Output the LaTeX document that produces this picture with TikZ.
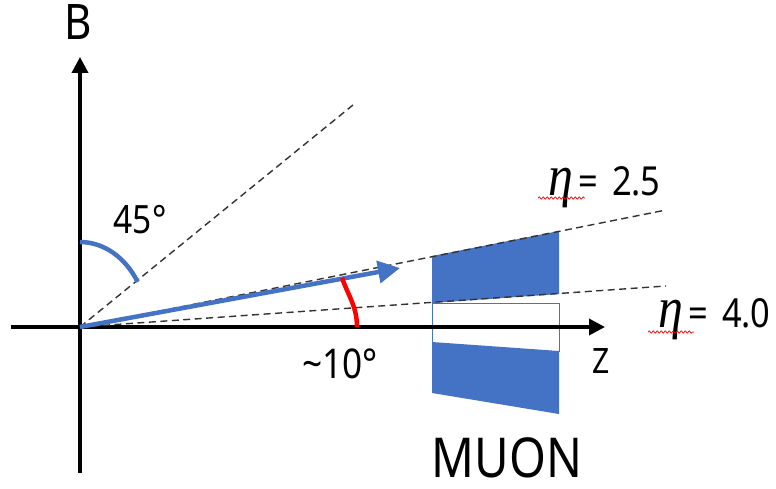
\documentclass[tikz,border=0pt]{standalone}
\usepackage{fontspec}
\setmainfont{Noto Sans}
\newfontfamily\etafont{Liberation Serif}
\usepackage{xcolor}
\usetikzlibrary{
    arrows.meta,
    decorations.pathmorphing
}
\definecolor{muonblue}{RGB}{68,114,196}
\definecolor{conegray}{RGB}{50,50,50}
\newcommand{\fsz}[1]{\fontsize{#1}{#1}\selectfont}
\newcommand{\etasym}{{\etafont\itshape\fsz{58}η}}

\begin{document}
\begin{tikzpicture}[
        x=1pt, y=1pt,
        axis/.style={line width=3.5pt, -{Triangle[length=16pt,width=16pt]}},
        cone/.style={conegray, line width=1.4pt, dash pattern=on 7pt off 4.5pt},
        lbl/.style={inner sep=0, xscale=0.86, font=\fsz{#1}},
        squiggle/.style={red, line width=0.7pt, decorate, decoration={snake, amplitude=1.1pt, segment length=4pt}}
    ]
        \useasboundingbox (-80,-161) rectangle (696,327);

        % Origin and end points
        \coordinate (O) at (0,0);
        \coordinate (bbot) at (0,-146);
        \coordinate (btip) at (0,270);
        \coordinate (zleft) at (-69,0);
        \coordinate (ztip) at (525,0);
        \coordinate (c45) at (273,222);
        \coordinate (c25) at (586,117);
        \coordinate (c40) at (586,41);
        \coordinate (ptip) at (320,59);

        % Muon detector
        \fill[muonblue] (352,71) -- (479,96) -- (479,33) -- (352,24) -- cycle;
        \fill[muonblue] (352,-15) -- (479,-24) -- (479,-87) -- (352,-66) -- cycle;
        \draw[muonblue, line width=0.8pt] (352,24) rectangle (479,-24);

        % Axes
        \draw[axis] (bbot) -- (btip);
        \draw[axis] (zleft) -- (ztip);

        % Cone lines
        \draw[cone] (O) -- (c45);
        \draw[cone] (O) -- (c25);
        \draw[cone] (O) -- (c40);

        % Particle direction
        \draw[muonblue, line width=4.5pt, -{Triangle[length=22pt,width=22pt]}] (O) -- (ptip);

        % Angles
        \draw[muonblue, line width=4.5pt] (0,85) arc[start angle=90, end angle=32, x radius=68, y radius=85];
        \draw[red, line width=4.5pt] (277,0) to[out=90,in=-70] (262,49);

        % Labels
        \node[lbl=49, anchor=base] (blbl) at (-2,287) {B};
        \node[lbl=35, anchor=base] (zlbl) at (521,-46) {Z};
        \node[lbl=39, anchor=base] (a45) at (60,94) {45°};
        \node[lbl=41, anchor=base] (a10) at (260,-51) {\textasciitilde10°};
        \node[lbl=40, anchor=base west] (eta25) at (468,132) {\etasym\,=\hspace{0.4em}2.5};
        \node[lbl=40, anchor=base west] (eta40) at (578,0) {\etasym\,=\hspace{0.4em}4.0};
        \node[lbl=55, anchor=base] (muon) at (427,-150) {MUON};

        % Spell check marks
        \draw[squiggle] (458,129) -- (505,129);
        \draw[squiggle] (568,-5) -- (614,-5);

    \end{tikzpicture}
\end{document}
